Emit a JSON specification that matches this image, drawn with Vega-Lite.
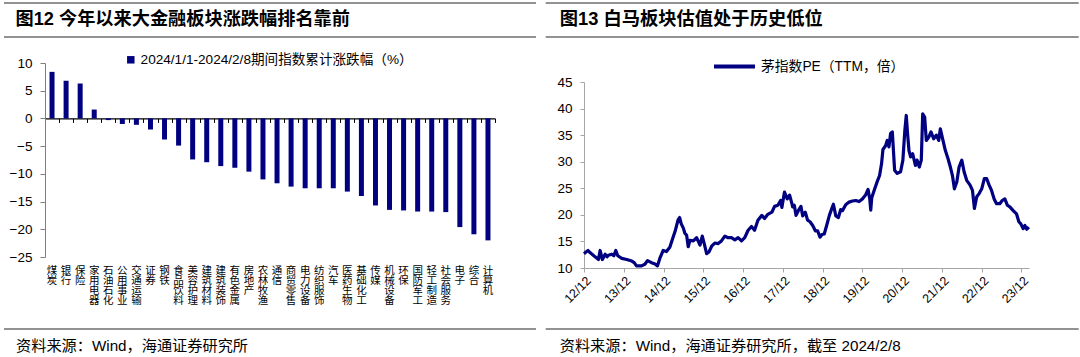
{
  "$schema": "https://vega.github.io/schema/vega-lite/v6.json",
  "background": "white",
  "padding": {"left": 3, "top": 2, "right": 0, "bottom": 0},
  "config": {
    "view": {"stroke": null},
    "font": "Liberation Sans, Noto Sans CJK SC",
    "axis": {"labelFont": "Liberation Sans, Noto Sans CJK SC", "labelColor": "#000000", "grid": false, "title": null}
  },
  "spacing": 21,
  "vconcat": [
    {
      "spacing": 7,
      "hconcat": [
        {
          "spacing": 18,
          "vconcat": [
            {
              "width": 450,
              "height": 34,
              "data": {"values": [{}]},
              "encoding": {
                "x": {"datum": 0, "type": "quantitative", "scale": {"domain": [0, 1], "range": [-41, 491]}, "axis": null}
              },
              "layer": [
                {"mark": {"type": "rule", "stroke": "#6e6e6e", "strokeWidth": 1.5}, "encoding": {"x2": {"datum": 1}, "y": {"datum": 1, "type": "quantitative", "scale": {"domain": [0, 1]}, "axis": null}}},
                {"mark": {"type": "rule", "stroke": "#6e6e6e", "strokeWidth": 1.5}, "encoding": {"x2": {"datum": 1}, "y": {"datum": 0, "type": "quantitative"}}},
                {"mark": {"type": "text", "align": "left", "baseline": "middle", "fontSize": 18.2, "fontWeight": "bold", "dx": 11.5, "color": "#000000"}, "encoding": {"y": {"datum": 0.5, "type": "quantitative"}, "text": {"value": "图12 今年以来大金融板块涨跌幅排名靠前"}}}
              ]
            },
            {
              "width": 450,
              "height": 194,
              "data": {"values": [
                {"name": "煤炭", "pct": 8.4},
                {"name": "银行", "pct": 6.8},
                {"name": "保险", "pct": 6.3},
                {"name": "家用电器", "pct": 1.6},
                {"name": "石油石化", "pct": -0.3},
                {"name": "公用事业", "pct": -1.0},
                {"name": "交通运输", "pct": -1.15},
                {"name": "证券", "pct": -2.0},
                {"name": "钢铁", "pct": -3.8},
                {"name": "食品饮料", "pct": -4.9},
                {"name": "美容护理", "pct": -7.4},
                {"name": "建筑材料", "pct": -7.9},
                {"name": "建筑装饰", "pct": -8.6},
                {"name": "有色金属", "pct": -8.9},
                {"name": "房地产", "pct": -9.6},
                {"name": "农林牧渔", "pct": -11.0},
                {"name": "通信", "pct": -11.7},
                {"name": "商贸零售", "pct": -12.3},
                {"name": "电力设备", "pct": -12.6},
                {"name": "纺织服饰", "pct": -12.6},
                {"name": "汽车", "pct": -12.6},
                {"name": "医药生物", "pct": -13.2},
                {"name": "基础化工", "pct": -14.0},
                {"name": "传媒", "pct": -15.7},
                {"name": "机械设备", "pct": -16.5},
                {"name": "环保", "pct": -16.6},
                {"name": "国防军工", "pct": -16.8},
                {"name": "轻工制造", "pct": -16.8},
                {"name": "社会服务", "pct": -16.9},
                {"name": "电子", "pct": -19.6},
                {"name": "综合", "pct": -20.9},
                {"name": "计算机", "pct": -22.0}
              ]},
              "resolve": {"axis": {"x": "independent"}},
              "layer": [
                {
                  "mark": {"type": "bar", "width": 5, "color": "#000080"},
                  "encoding": {
                    "x": {"field": "name", "type": "nominal", "sort": null, "scale": {"paddingInner": 0, "paddingOuter": 0},
                      "axis": {"orient": "bottom", "labelExpr": "split(datum.label, '')", "labelAngle": 0, "domain": false, "ticks": false, "labelPadding": 8, "labelFont": "Noto Sans CJK SC", "labelFontSize": 10.5, "labelLineHeight": 10.3, "labelBaseline": "top", "labelAlign": "center", "labelOverlap": false, "title": null}},
                    "y": {"field": "pct", "type": "quantitative", "scale": {"domain": [-25, 10], "nice": false, "zero": false},
                      "axis": {"values": [-25, -20, -15, -10, -5, 0, 5, 10], "title": null, "labelOverlap": false, "domainColor": "#7f7f7f", "tickColor": "#7f7f7f", "tickSize": 5, "labelPadding": 8, "labelFontSize": 13.5}},
                    "color": {"datum": "2024/1/1-2024/2/8期间指数累计涨跌幅（%）", "type": "nominal", "scale": {"range": ["#000080"]},
                      "legend": {"orient": "none", "legendX": 79, "legendY": 50, "title": null, "padding": 0, "symbolType": "square", "symbolSize": 56, "symbolStrokeWidth": 0, "labelFontSize": 13.6, "labelColor": "#000000", "labelOffset": 3, "labelLimit": 0}}
                  }
                },
                {
                  "mark": {"type": "bar", "opacity": 0},
                  "encoding": {
                    "x": {"field": "name", "type": "nominal", "sort": null,
                      "axis": {"orient": "bottom", "offset": -138.6, "labels": false, "domain": true, "domainColor": "#000000", "domainWidth": 1.2, "ticks": true, "tickColor": "#000000", "tickSize": 4, "tickBand": "extent", "title": null}}
                  }
                }
              ]
            }
          ]
        },
        {
          "spacing": 37,
          "vconcat": [
            {
              "width": 445,
              "height": 34,
              "data": {"values": [{}]},
              "encoding": {
                "x": {"datum": 0, "type": "quantitative", "scale": {"domain": [0, 1], "range": [-38.3, 494.7]}, "axis": null}
              },
              "layer": [
                {"mark": {"type": "rule", "stroke": "#6e6e6e", "strokeWidth": 1.5}, "encoding": {"x2": {"datum": 1}, "y": {"datum": 1, "type": "quantitative", "scale": {"domain": [0, 1]}, "axis": null}}},
                {"mark": {"type": "rule", "stroke": "#6e6e6e", "strokeWidth": 1.5}, "encoding": {"x2": {"datum": 1}, "y": {"datum": 0, "type": "quantitative"}}},
                {"mark": {"type": "text", "align": "left", "baseline": "middle", "fontSize": 18.3, "fontWeight": "bold", "dx": 14, "color": "#000000"}, "encoding": {"y": {"datum": 0.5, "type": "quantitative"}, "text": {"value": "图13 白马板块估值处于历史低位"}}}
              ]
            },
            {
              "width": 445,
              "height": 186,
              "data": {"values": [
                {"d": "2012-12-01", "pe": 12.7}, {"d": "2012-12-19", "pe": 13.0}, {"d": "2013-01-07", "pe": 13.3}, {"d": "2013-01-25", "pe": 12.9},
                {"d": "2013-02-13", "pe": 12.6}, {"d": "2013-03-13", "pe": 12.1}, {"d": "2013-04-13", "pe": 11.6}, {"d": "2013-04-28", "pe": 13.3},
                {"d": "2013-05-19", "pe": 11.6}, {"d": "2013-06-13", "pe": 12.6}, {"d": "2013-07-01", "pe": 12.1}, {"d": "2013-07-13", "pe": 12.4},
                {"d": "2013-08-13", "pe": 12.6}, {"d": "2013-09-01", "pe": 12.3}, {"d": "2013-09-19", "pe": 13.3}, {"d": "2013-10-07", "pe": 12.3},
                {"d": "2013-11-13", "pe": 11.8}, {"d": "2013-12-28", "pe": 11.6}, {"d": "2014-02-13", "pe": 11.3}, {"d": "2014-03-07", "pe": 11.0},
                {"d": "2014-03-28", "pe": 10.4}, {"d": "2014-05-13", "pe": 10.4}, {"d": "2014-06-13", "pe": 10.7}, {"d": "2014-07-07", "pe": 11.4},
                {"d": "2014-08-13", "pe": 11.0}, {"d": "2014-09-10", "pe": 10.8}, {"d": "2014-10-07", "pe": 10.4}, {"d": "2014-10-28", "pe": 11.8},
                {"d": "2014-11-28", "pe": 13.3}, {"d": "2014-12-28", "pe": 13.1}, {"d": "2015-01-28", "pe": 13.9}, {"d": "2015-02-27", "pe": 15.8},
                {"d": "2015-03-19", "pe": 17.0}, {"d": "2015-04-13", "pe": 19.0}, {"d": "2015-04-28", "pe": 19.5}, {"d": "2015-05-13", "pe": 18.3},
                {"d": "2015-06-01", "pe": 17.5}, {"d": "2015-06-16", "pe": 16.5}, {"d": "2015-07-01", "pe": 16.2}, {"d": "2015-07-16", "pe": 14.0},
                {"d": "2015-08-01", "pe": 15.2}, {"d": "2015-09-01", "pe": 15.1}, {"d": "2015-10-01", "pe": 15.7}, {"d": "2015-11-01", "pe": 14.3},
                {"d": "2015-11-22", "pe": 16.0}, {"d": "2015-12-10", "pe": 14.6}, {"d": "2016-01-01", "pe": 12.7}, {"d": "2016-01-22", "pe": 13.0},
                {"d": "2016-02-16", "pe": 14.1}, {"d": "2016-03-16", "pe": 14.7}, {"d": "2016-04-16", "pe": 14.6}, {"d": "2016-05-16", "pe": 15.1},
                {"d": "2016-06-16", "pe": 16.0}, {"d": "2016-07-16", "pe": 15.7}, {"d": "2016-08-16", "pe": 15.7}, {"d": "2016-09-16", "pe": 15.3},
                {"d": "2016-10-16", "pe": 15.7}, {"d": "2016-11-16", "pe": 15.1}, {"d": "2016-12-16", "pe": 15.7}, {"d": "2017-01-16", "pe": 17.1},
                {"d": "2017-02-16", "pe": 17.8}, {"d": "2017-03-16", "pe": 17.1}, {"d": "2017-04-16", "pe": 19.0}, {"d": "2017-05-22", "pe": 19.9},
                {"d": "2017-06-16", "pe": 19.3}, {"d": "2017-07-16", "pe": 20.1}, {"d": "2017-08-22", "pe": 20.5}, {"d": "2017-09-16", "pe": 21.6},
                {"d": "2017-10-16", "pe": 21.8}, {"d": "2017-11-10", "pe": 22.7}, {"d": "2017-11-22", "pe": 21.4}, {"d": "2017-12-16", "pe": 24.3},
                {"d": "2018-01-10", "pe": 23.0}, {"d": "2018-02-01", "pe": 23.7}, {"d": "2018-02-22", "pe": 22.1}, {"d": "2018-03-01", "pe": 21.5},
                {"d": "2018-03-16", "pe": 21.8}, {"d": "2018-04-01", "pe": 19.9}, {"d": "2018-04-25", "pe": 20.9}, {"d": "2018-05-16", "pe": 21.6},
                {"d": "2018-06-01", "pe": 19.8}, {"d": "2018-06-25", "pe": 20.5}, {"d": "2018-07-16", "pe": 19.0}, {"d": "2018-08-07", "pe": 18.7},
                {"d": "2018-09-01", "pe": 18.0}, {"d": "2018-09-25", "pe": 17.0}, {"d": "2018-10-16", "pe": 17.0}, {"d": "2018-11-07", "pe": 15.8},
                {"d": "2018-11-25", "pe": 16.3}, {"d": "2018-12-16", "pe": 16.4}, {"d": "2019-01-07", "pe": 18.0}, {"d": "2019-02-01", "pe": 19.9},
                {"d": "2019-02-25", "pe": 21.3}, {"d": "2019-03-10", "pe": 22.0}, {"d": "2019-04-01", "pe": 19.8}, {"d": "2019-04-25", "pe": 19.5},
                {"d": "2019-05-16", "pe": 21.0}, {"d": "2019-06-01", "pe": 20.8}, {"d": "2019-07-01", "pe": 21.9}, {"d": "2019-08-01", "pe": 22.4},
                {"d": "2019-09-01", "pe": 22.6}, {"d": "2019-10-01", "pe": 22.7}, {"d": "2019-11-01", "pe": 22.5}, {"d": "2019-12-01", "pe": 23.0},
                {"d": "2020-01-01", "pe": 23.8}, {"d": "2020-01-22", "pe": 24.8}, {"d": "2020-02-07", "pe": 23.0}, {"d": "2020-02-16", "pe": 20.9},
                {"d": "2020-02-25", "pe": 23.2}, {"d": "2020-03-25", "pe": 25.0}, {"d": "2020-04-16", "pe": 26.3}, {"d": "2020-05-07", "pe": 27.4},
                {"d": "2020-05-25", "pe": 29.6}, {"d": "2020-06-07", "pe": 32.3}, {"d": "2020-07-01", "pe": 33.0}, {"d": "2020-07-16", "pe": 34.0},
                {"d": "2020-08-01", "pe": 32.8}, {"d": "2020-08-16", "pe": 35.3}, {"d": "2020-09-01", "pe": 35.6}, {"d": "2020-09-22", "pe": 28.4},
                {"d": "2020-10-16", "pe": 27.8}, {"d": "2020-11-16", "pe": 28.1}, {"d": "2020-12-07", "pe": 30.3}, {"d": "2020-12-25", "pe": 35.9},
                {"d": "2021-01-07", "pe": 38.7}, {"d": "2021-01-19", "pe": 35.3}, {"d": "2021-02-01", "pe": 32.1}, {"d": "2021-02-16", "pe": 30.9},
                {"d": "2021-03-07", "pe": 31.5}, {"d": "2021-04-01", "pe": 29.3}, {"d": "2021-04-16", "pe": 30.3}, {"d": "2021-05-07", "pe": 29.0},
                {"d": "2021-05-25", "pe": 30.3}, {"d": "2021-06-07", "pe": 39.0}, {"d": "2021-06-25", "pe": 38.4}, {"d": "2021-07-10", "pe": 34.0},
                {"d": "2021-08-01", "pe": 34.6}, {"d": "2021-08-22", "pe": 35.6}, {"d": "2021-09-16", "pe": 34.3}, {"d": "2021-10-10", "pe": 35.0},
                {"d": "2021-11-01", "pe": 34.0}, {"d": "2021-11-16", "pe": 36.2}, {"d": "2021-12-07", "pe": 34.3}, {"d": "2022-01-01", "pe": 32.1},
                {"d": "2022-01-25", "pe": 30.6}, {"d": "2022-02-16", "pe": 29.0}, {"d": "2022-03-07", "pe": 27.4}, {"d": "2022-03-25", "pe": 24.9},
                {"d": "2022-04-16", "pe": 26.2}, {"d": "2022-05-07", "pe": 29.0}, {"d": "2022-06-01", "pe": 30.3}, {"d": "2022-06-22", "pe": 28.1},
                {"d": "2022-07-16", "pe": 26.5}, {"d": "2022-08-16", "pe": 25.6}, {"d": "2022-09-07", "pe": 24.6}, {"d": "2022-09-25", "pe": 21.2},
                {"d": "2022-10-16", "pe": 23.4}, {"d": "2022-11-07", "pe": 24.0}, {"d": "2022-12-01", "pe": 24.9}, {"d": "2022-12-25", "pe": 26.8},
                {"d": "2023-01-16", "pe": 26.8}, {"d": "2023-02-07", "pe": 25.6}, {"d": "2023-03-01", "pe": 24.6}, {"d": "2023-03-25", "pe": 23.0},
                {"d": "2023-04-16", "pe": 22.1}, {"d": "2023-05-16", "pe": 22.1}, {"d": "2023-06-07", "pe": 22.7}, {"d": "2023-07-01", "pe": 23.0},
                {"d": "2023-07-25", "pe": 21.8}, {"d": "2023-08-16", "pe": 21.5}, {"d": "2023-09-16", "pe": 20.8}, {"d": "2023-10-16", "pe": 20.2},
                {"d": "2023-11-07", "pe": 18.7}, {"d": "2023-11-25", "pe": 18.3}, {"d": "2023-12-16", "pe": 17.4}, {"d": "2024-01-01", "pe": 18.0},
                {"d": "2024-01-19", "pe": 17.3}, {"d": "2024-02-07", "pe": 17.7}
              ]},
              "mark": {"type": "line", "strokeWidth": 3.2, "strokeJoin": "round"},
              "encoding": {
                "x": {"field": "d", "type": "temporal",
                  "scale": {"type": "utc", "domain": [{"year": 2012, "month": 12, "date": 1, "utc": true}, {"year": 2024, "month": 2, "date": 8, "utc": true}], "nice": false},
                  "axis": {"values": [
                    {"year": 2012, "month": 12, "date": 1, "utc": true}, {"year": 2013, "month": 12, "date": 1, "utc": true},
                    {"year": 2014, "month": 12, "date": 1, "utc": true}, {"year": 2015, "month": 12, "date": 1, "utc": true},
                    {"year": 2016, "month": 12, "date": 1, "utc": true}, {"year": 2017, "month": 12, "date": 1, "utc": true},
                    {"year": 2018, "month": 12, "date": 1, "utc": true}, {"year": 2019, "month": 12, "date": 1, "utc": true},
                    {"year": 2020, "month": 12, "date": 1, "utc": true}, {"year": 2021, "month": 12, "date": 1, "utc": true},
                    {"year": 2022, "month": 12, "date": 1, "utc": true}, {"year": 2023, "month": 12, "date": 1, "utc": true}],
                    "labelExpr": "utcFormat(datum.value, '%y/%m')", "labelAngle": -45, "labelFontSize": 12.5, "labelPadding": 2, "tickSize": 4,
                    "domainColor": "#a6a6a6", "tickColor": "#a6a6a6", "labelOverlap": false, "labelFlush": false, "title": null}},
                "y": {"field": "pe", "type": "quantitative", "scale": {"domain": [10, 45], "nice": false, "zero": false},
                  "axis": {"values": [10, 15, 20, 25, 30, 35, 40, 45], "labelOverlap": false, "tickSize": 4, "labelPadding": 8, "labelFontSize": 13.5, "domainColor": "#a6a6a6", "tickColor": "#a6a6a6", "title": null}},
                "stroke": {"datum": "茅指数PE（TTM，倍）", "type": "nominal", "scale": {"range": ["#000080"]},
                  "legend": {"orient": "none", "legendX": 667, "legendY": 41, "title": null, "padding": 0, "symbolType": "stroke", "symbolSize": 1681, "symbolStrokeWidth": 4, "labelFontSize": 13.8, "labelColor": "#000000", "labelOffset": 4, "labelLimit": 0}}
              }
            }
          ]
        }
      ]
    },
    {
      "spacing": 7,
      "hconcat": [
        {
          "width": 450,
          "height": 26,
          "data": {"values": [{}]},
          "encoding": {
            "x": {"datum": 0, "type": "quantitative", "scale": {"domain": [0, 1], "range": [-41, 491]}, "axis": null},
            "y": {"datum": 1, "type": "quantitative", "scale": {"domain": [0, 1]}, "axis": null}
          },
          "layer": [
            {"mark": {"type": "rule", "stroke": "#6e6e6e", "strokeWidth": 1.5}, "encoding": {"x2": {"datum": 1}}},
            {"mark": {"type": "text", "align": "left", "baseline": "middle", "fontSize": 15.2, "dx": 12, "dy": 17, "color": "#000000"}, "encoding": {"text": {"value": "资料来源：Wind，海通证券研究所"}}}
          ]
        },
        {
          "width": 445,
          "height": 26,
          "data": {"values": [{}]},
          "encoding": {
            "x": {"datum": 0, "type": "quantitative", "scale": {"domain": [0, 1], "range": [-38.3, 494.7]}, "axis": null},
            "y": {"datum": 1, "type": "quantitative", "scale": {"domain": [0, 1]}, "axis": null}
          },
          "layer": [
            {"mark": {"type": "rule", "stroke": "#6e6e6e", "strokeWidth": 1.5}, "encoding": {"x2": {"datum": 1}}},
            {"mark": {"type": "text", "align": "left", "baseline": "middle", "fontSize": 15.2, "dx": 14, "dy": 17, "color": "#000000"}, "encoding": {"text": {"value": "资料来源：Wind，海通证券研究所，截至 2024/2/8"}}}
          ]
        }
      ]
    }
  ]
}
